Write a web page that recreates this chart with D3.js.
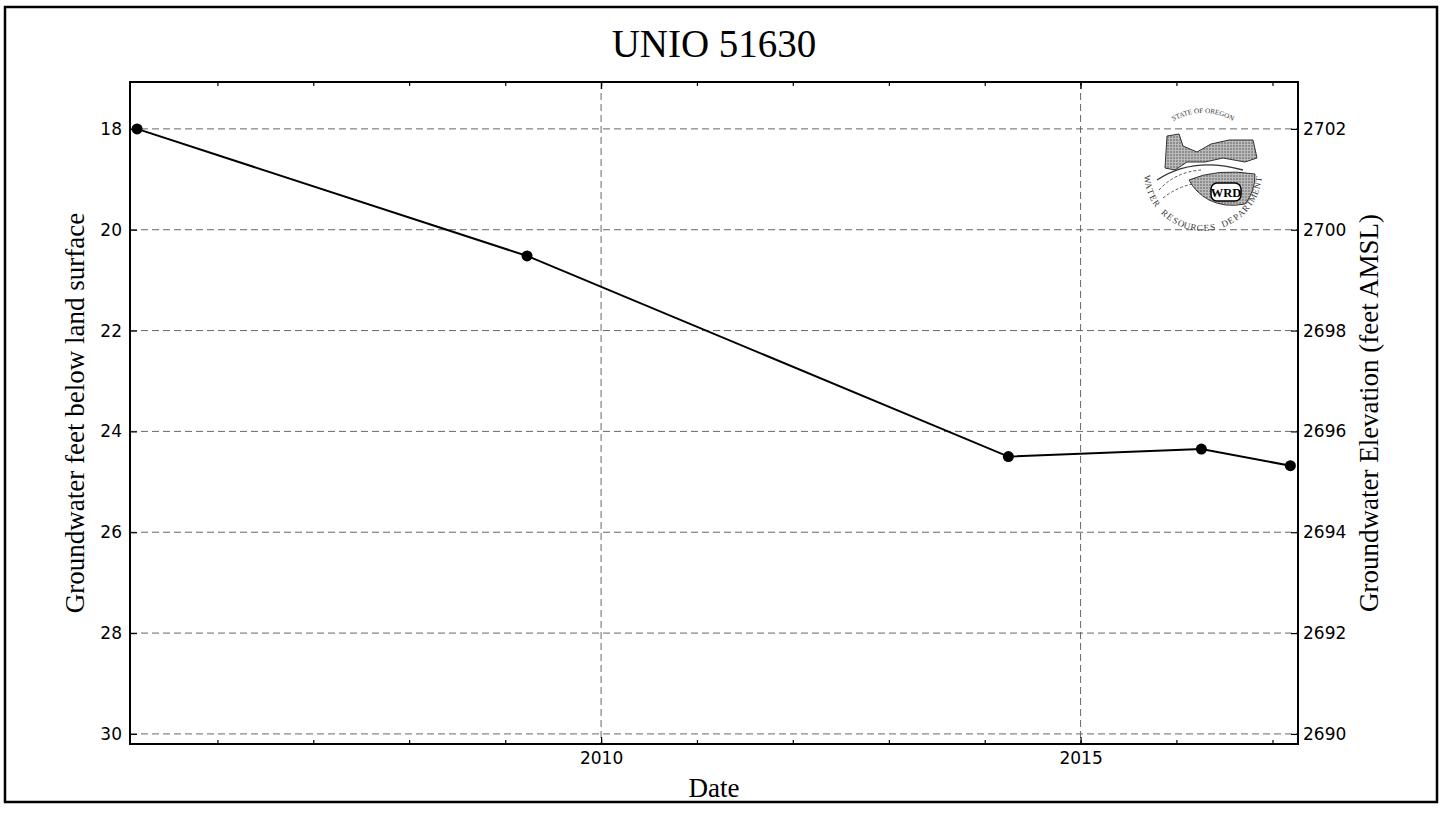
<!DOCTYPE html>
<html>
<head>
<meta charset="utf-8">
<script src="https://cdn.jsdelivr.net/npm/d3@7"></script>
<style>
  body { margin: 0; background: #fff; }
  svg { display: block; }
</style>
</head>
<body>
<div id="chart"></div>
<script>
const sampleDates = ["2005-03-01", "2009-03-25", "2014-04-01", "2016-04-05", "2017-03-10"];
const depthFt = [18.0, 20.52, 24.5, 24.35, 24.68];
const depthTicks = [18, 20, 22, 24, 26, 28, 30];
const elevTicks = [2702, 2700, 2698, 2696, 2694, 2692, 2690];
const landSurface = 2720; // elevation = landSurface - depth

const W = 1442, H = 815;
const m = {left: 130, right: 1298, top: 82, bottom: 744};

const svg = d3.select("#chart").append("svg")
  .attr("width", W).attr("height", H);

// outer page frame
svg.append("rect")
  .attr("x", 5).attr("y", 7).attr("width", 1432).attr("height", 795)
  .attr("fill", "none").attr("stroke", "#000").attr("stroke-width", 2.5);

let data = sampleDates.map((d, i) => ({date: new Date(d), depth: depthFt[i]}));

let x = d3.scaleTime()
  .domain([new Date(2005, 1, 2), new Date(2017, 3, 8)])
  .range([m.left, m.right]);

let y = d3.scaleLinear()
  .domain([17.07, 30.2])
  .range([m.top, m.bottom]);

let y2 = d3.scaleLinear()
  .domain([landSurface - 17.07, landSurface - 30.2])
  .range([m.top, m.bottom]);

const plotW = m.right - m.left, plotH = m.bottom - m.top;

// grid
let grid = svg.append("g").attr("stroke", "#111").attr("stroke-width", 0.9)
  .attr("stroke-dasharray", "7,4").attr("opacity", 0.7);
depthTicks.forEach(t => {
  grid.append("line").attr("x1", m.left).attr("x2", m.right)
    .attr("y1", y(t)).attr("y2", y(t));
});
x.ticks(d3.timeYear.every(5)).forEach(t => {
  grid.append("line").attr("y1", m.top).attr("y2", m.bottom)
    .attr("x1", x(t)).attr("x2", x(t));
});

// axes (ticks pointing inward, classic style)
let tickFont = "DejaVu Sans, sans-serif";

let yLeft = svg.append("g").attr("transform", `translate(${m.left},0)`)
  .call(d3.axisLeft(y).tickValues(depthTicks).tickSizeInner(-7).tickSizeOuter(0).tickPadding(8));
let yRight = svg.append("g").attr("transform", `translate(${m.right},0)`)
  .call(d3.axisRight(y2).tickValues(elevTicks).tickFormat(d3.format("d"))
    .tickSizeInner(-7).tickSizeOuter(0).tickPadding(5));
let xBottom = svg.append("g").attr("transform", `translate(0,${m.bottom})`)
  .call(d3.axisBottom(x).ticks(d3.timeYear.every(5)).tickFormat(d3.timeFormat("%Y"))
    .tickSizeInner(-7).tickSizeOuter(0).tickPadding(8));
let xMinor = svg.append("g").attr("transform", `translate(0,${m.bottom})`)
  .call(d3.axisBottom(x).ticks(d3.timeYear.every(1)).tickFormat("")
    .tickSizeInner(-4).tickSizeOuter(0));
let xTop = svg.append("g").attr("transform", `translate(0,${m.top})`)
  .call(d3.axisTop(x).ticks(d3.timeYear.every(5)).tickFormat("")
    .tickSizeInner(-7).tickSizeOuter(0));
let xTopMinor = svg.append("g").attr("transform", `translate(0,${m.top})`)
  .call(d3.axisTop(x).ticks(d3.timeYear.every(1)).tickFormat("")
    .tickSizeInner(-4).tickSizeOuter(0));

[yLeft, yRight, xBottom, xMinor, xTop, xTopMinor].forEach(g => {
  g.select(".domain").remove();
  g.selectAll("line").attr("stroke", "#000").attr("stroke-width", 1.2);
  g.selectAll("text").attr("font-family", tickFont).attr("font-size", 17)
    .attr("fill", "#000");
});

// plot frame
svg.append("rect")
  .attr("x", m.left).attr("y", m.top).attr("width", plotW).attr("height", plotH)
  .attr("fill", "none").attr("stroke", "#000").attr("stroke-width", 2);

// series
let line = d3.line().x(d => x(d.date)).y(d => y(d.depth));
svg.append("path").datum(data)
  .attr("d", line).attr("fill", "none")
  .attr("stroke", "#000").attr("stroke-width", 2);
svg.selectAll(".pt").data(data).enter().append("circle")
  .attr("class", "pt")
  .attr("cx", d => x(d.date)).attr("cy", d => y(d.depth))
  .attr("r", 5.5).attr("fill", "#000");

// titles
let serif = "Liberation Serif, Times New Roman, serif";
let cx = (m.left + m.right) / 2, cy = (m.top + m.bottom) / 2;
svg.append("text").attr("x", cx).attr("y", 57)
  .attr("text-anchor", "middle").attr("font-family", serif).attr("font-size", 39)
  .text("UNIO 51630");
svg.append("text").attr("x", cx).attr("y", 797)
  .attr("text-anchor", "middle").attr("font-family", serif).attr("font-size", 27)
  .text("Date");
svg.append("text")
  .attr("transform", `translate(84,${cy}) rotate(-90)`)
  .attr("text-anchor", "middle").attr("font-family", serif).attr("font-size", 27)
  .text("Groundwater feet below land surface");
svg.append("text")
  .attr("transform", `translate(1378,${cy}) rotate(-90)`)
  .attr("text-anchor", "middle").attr("font-family", serif).attr("font-size", 27)
  .text("Groundwater Elevation (feet AMSL)");

// Water Resources Department seal (rough)
let seal = svg.append("g").attr("transform", "translate(1203,172)");
let defs = svg.append("defs");
let pat = defs.append("pattern").attr("id", "stip").attr("width", 3).attr("height", 3)
  .attr("patternUnits", "userSpaceOnUse");
pat.append("rect").attr("width", 3).attr("height", 3).attr("fill", "#bbb");
pat.append("circle").attr("cx", 1).attr("cy", 1).attr("r", 0.8).attr("fill", "#555");

defs.append("path").attr("id", "arcTop").attr("d", "M -34,-48 A 58,58 0 0,1 34,-48");

seal.append("path")
  .attr("d", "M -36,-36 L -24,-38 L -20,-26 L -6,-20 L 8,-28 L 26,-32 L 50,-32 L 54,-14 L 42,-10 L 20,-14 L 2,-10 L -16,-10 L -28,-2 L -38,-4 Z")
  .attr("fill", "url(#stip)").attr("stroke", "#333").attr("stroke-width", 1);
seal.append("path")
  .attr("d", "M -46,8 Q -10,-16 40,-2")
  .attr("fill", "none").attr("stroke", "#333").attr("stroke-width", 1.3);
seal.append("path")
  .attr("d", "M -44,18 Q -28,0 -2,-2 M -40,26 Q -20,10 8,10")
  .attr("fill", "none").attr("stroke", "#555").attr("stroke-width", 1).attr("stroke-dasharray", "3,2");
seal.append("path")
  .attr("d", "M -14,8 Q 14,-4 52,2 Q 52,20 42,32 Q 22,36 6,28 Q -8,20 -14,8 Z")
  .attr("fill", "url(#stip)").attr("stroke", "#333").attr("stroke-width", 1);
seal.append("rect").attr("x", 8).attr("y", 11).attr("width", 30).attr("height", 18)
  .attr("rx", 6).attr("fill", "#fff").attr("stroke", "#000").attr("stroke-width", 1.5);
seal.append("text").attr("x", 23).attr("y", 24.5).attr("text-anchor", "middle")
  .attr("font-family", serif).attr("font-size", 12.5).attr("font-weight", "bold")
  .text("WRD");
seal.append("text").attr("font-family", serif).attr("font-size", 7).attr("fill", "#333")
  .append("textPath").attr("href", "#arcTop").attr("startOffset", "50%")
  .attr("text-anchor", "middle").text("STATE OF OREGON");

// bottom legend of the seal, one glyph at a time round the rim
let rimText = "WATER RESOURCES DEPARTMENT".split("");
let rimR = 59, rimStep = 6.6 * Math.PI / 180; // ~angle per glyph
let a0 = Math.PI / 2 + (rimText.length - 1) * rimStep / 2;
rimText.forEach((ch, i) => {
  if (ch == " ") return;
  let a = a0 - i * rimStep;
  let px = rimR * Math.cos(a), py = rimR * Math.sin(a);
  seal.append("text")
    .attr("transform", `translate(${px.toFixed(1)},${py.toFixed(1)}) rotate(${(a * 180 / Math.PI - 90).toFixed(1)})`)
    .attr("text-anchor", "middle").attr("font-family", serif).attr("font-size", 9)
    .attr("fill", "#333").text(ch);
});
</script>
</body>
</html>
